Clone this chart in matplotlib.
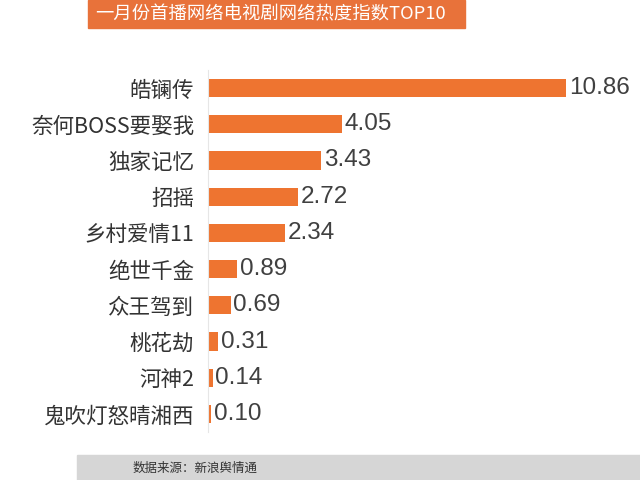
import matplotlib
matplotlib.use("Agg")
import matplotlib.pyplot as plt
from matplotlib.patches import Rectangle

plt.rcParams['font.family'] = ['Noto Sans CJK SC', 'DejaVu Sans']

# data
shows = ['皓镧传', '奈何BOSS要娶我', '独家记忆', '招摇', '乡村爱情11',
         '绝世千金', '众王驾到', '桃花劫', '河神2', '鬼吹灯怒晴湘西']
heat = [10.86, 4.05, 3.43, 2.72, 2.34, 0.89, 0.69, 0.31, 0.14, 0.10]
title = '一月份首播网络电视剧网络热度指数TOP10'
source = '数据来源：新浪舆情通'

bar_color = '#EE7430'

fig = plt.figure(figsize=(6.4, 4.8), dpi=100)
ax = fig.add_axes([208/640, 1-432/480, 432/640, 362/480])

pos = list(range(len(shows)))
ax.barh(pos, heat, height=0.5, color=bar_color)
ax.set_ylim(len(shows)-0.5, -0.5)
ax.set_xlim(0, 13.1)
ax.set_yticks(pos)
ax.set_yticklabels(shows, fontsize=15.5, color='#333333')
ax.tick_params(axis='y', length=0, pad=10)
ax.set_xticks([])
for s in ['top', 'right', 'bottom']:
    ax.spines[s].set_visible(False)
ax.spines['left'].set_color('#E6E6E6')

for p, v in zip(pos, heat):
    ax.text(v + 0.08, p, '%.2f' % v, va='center', ha='left',
            fontsize=17.5, color='#404040', family=['Liberation Sans', 'DejaVu Sans'])

#   title banner
fig.patches.append(Rectangle((88/640, 1-28/480), 377/640, 28/480,
                             transform=fig.transFigure, color='#E8723A', zorder=0))
fig.text(270/640, 1-14/480, title, ha='center', va='center',
         fontsize=13.2, color='white')

#   source banner
fig.patches.append(Rectangle((77/640, 0), 563/640, 25/480,
                             transform=fig.transFigure, color='#D6D6D6', zorder=0))
fig.text(133/640, 12/480, source, ha='left', va='center',
         fontsize=9, color='#333333')

fig.savefig('out.png', dpi=100)
